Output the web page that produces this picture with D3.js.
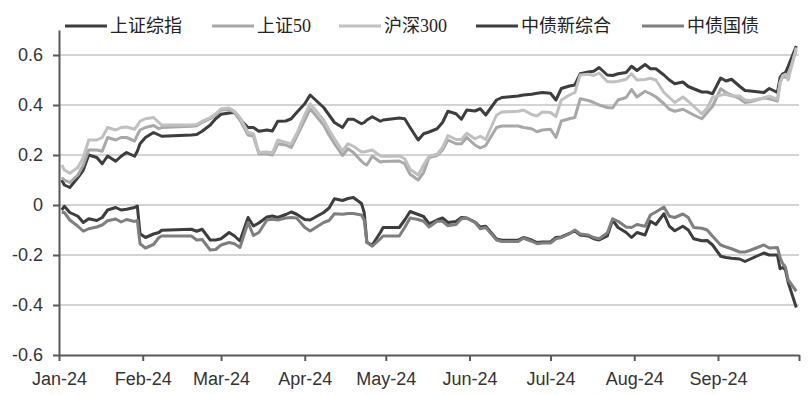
<!DOCTYPE html>
<html>
<head>
<meta charset="utf-8">
<script src="https://cdn.jsdelivr.net/npm/d3@7"></script>
<style>
	body { margin: 0; background: #fff; }
	svg { display: block; }
</style>
</head>
<body>
<script>
// trading days (2024), one point every ~2 days
var dates = [
	"01-02","01-03","01-05","01-08","01-10","01-12","01-15","01-17","01-19","01-22","01-24","01-26","01-29","01-30","01-31",
	"02-02","02-05","02-07","02-08","02-19","02-21","02-23","02-26","02-28",
	"03-01","03-04","03-06","03-08","03-11","03-13","03-15","03-18","03-20","03-22","03-25","03-27","03-29",
	"04-01","04-03","04-08","04-10","04-12","04-15","04-17","04-19","04-22","04-23","04-24","04-26","04-29","04-30",
	"05-06","05-08","05-10","05-13","05-15","05-17","05-20","05-22","05-24","05-27","05-29","05-31",
	"06-03","06-05","06-07","06-11","06-13","06-17","06-19","06-21","06-24","06-26","06-28",
	"07-01","07-03","07-05","07-08","07-10","07-12","07-15","07-17","07-19","07-22","07-24","07-26","07-29","07-31",
	"08-02","08-05","08-07","08-09","08-12","08-14","08-16","08-19","08-21","08-23","08-26","08-28","08-30",
	"09-02","09-04","09-06","09-09","09-11","09-13","09-18","09-20","09-23","09-24","09-25","09-26","09-27","09-30"
];

var shComposite = [
	0.10,0.08,0.07,0.11,0.14,0.20,0.19,0.165,0.196,0.175,0.195,0.21,0.195,0.215,0.245,
	0.27,0.29,0.28,0.275,0.28,0.282,0.295,0.32,0.345,
	0.363,0.368,0.37,0.343,0.31,0.31,0.295,0.30,0.296,0.335,0.336,0.345,0.37,
	0.405,0.44,0.39,0.36,0.33,0.31,0.343,0.343,0.325,0.33,0.34,0.353,0.335,0.34,
	0.348,0.345,0.31,0.26,0.285,0.292,0.305,0.33,0.375,0.365,0.343,0.38,
	0.376,0.385,0.36,0.42,0.43,0.434,0.436,0.44,0.443,0.447,0.45,
	0.447,0.42,0.466,0.476,0.48,0.525,0.532,0.535,0.55,0.52,0.518,0.525,0.53,0.555,
	0.538,0.562,0.545,0.545,0.52,0.50,0.485,0.492,0.474,0.465,0.452,0.452,0.445,
	0.508,0.496,0.503,0.475,0.458,0.456,0.45,0.466,0.45,0.51,0.525,0.53,0.555,0.636
];
var sh50 = [
	0.11,0.10,0.09,0.12,0.16,0.22,0.22,0.215,0.27,0.26,0.27,0.27,0.256,0.28,0.30,
	0.31,0.318,0.305,0.31,0.315,0.317,0.33,0.345,0.36,
	0.38,0.382,0.37,0.34,0.28,0.275,0.205,0.205,0.20,0.245,0.24,0.23,0.274,
	0.34,0.385,0.32,0.28,0.245,0.198,0.225,0.21,0.175,0.165,0.16,0.195,0.172,0.174,
	0.176,0.165,0.123,0.10,0.13,0.19,0.198,0.22,0.26,0.245,0.245,0.27,
	0.24,0.228,0.238,0.31,0.316,0.316,0.316,0.31,0.305,0.293,0.30,
	0.303,0.27,0.336,0.345,0.35,0.425,0.418,0.41,0.40,0.39,0.388,0.42,0.43,0.462,
	0.432,0.455,0.445,0.433,0.405,0.383,0.375,0.383,0.372,0.36,0.345,0.37,0.395,
	0.465,0.45,0.44,0.425,0.41,0.413,0.428,0.425,0.416,0.49,0.515,0.51,0.52,0.62
];
var hs300 = [
	0.16,0.14,0.127,0.15,0.19,0.26,0.26,0.27,0.31,0.30,0.31,0.312,0.303,0.318,0.335,
	0.345,0.35,0.33,0.32,0.32,0.322,0.335,0.35,0.365,
	0.385,0.388,0.375,0.35,0.29,0.285,0.21,0.212,0.208,0.26,0.25,0.245,0.285,
	0.36,0.405,0.34,0.30,0.265,0.216,0.245,0.235,0.212,0.212,0.215,0.22,0.196,0.195,
	0.196,0.185,0.143,0.12,0.16,0.195,0.203,0.23,0.278,0.262,0.262,0.287,
	0.265,0.275,0.262,0.36,0.372,0.374,0.375,0.38,0.362,0.356,0.372,
	0.37,0.354,0.42,0.44,0.45,0.52,0.523,0.518,0.528,0.494,0.492,0.495,0.503,0.525,
	0.50,0.502,0.507,0.50,0.45,0.43,0.41,0.432,0.415,0.395,0.365,0.388,0.43,
	0.44,0.443,0.436,0.436,0.42,0.418,0.428,0.435,0.423,0.49,0.518,0.523,0.50,0.63
];
var cbNew = [
	-0.02,-0.005,-0.03,-0.045,-0.07,-0.055,-0.062,-0.05,-0.02,-0.01,-0.02,-0.017,-0.01,-0.004,-0.115,
	-0.13,-0.116,-0.11,-0.101,-0.097,-0.105,-0.097,-0.14,-0.14,
	-0.135,-0.11,-0.124,-0.144,-0.05,-0.084,-0.072,-0.048,-0.044,-0.05,-0.038,-0.028,-0.037,
	-0.058,-0.06,-0.03,-0.012,0.025,0.018,0.026,0.03,0.006,-0.03,-0.15,-0.16,-0.11,-0.09,
	-0.09,-0.06,-0.026,-0.038,-0.046,-0.075,-0.06,-0.052,-0.07,-0.066,-0.05,-0.052,
	-0.068,-0.088,-0.085,-0.136,-0.141,-0.141,-0.14,-0.13,-0.14,-0.15,-0.148,
	-0.148,-0.13,-0.128,-0.114,-0.104,-0.12,-0.124,-0.135,-0.14,-0.124,-0.06,-0.09,-0.11,-0.13,
	-0.11,-0.12,-0.065,-0.078,-0.035,-0.085,-0.103,-0.085,-0.1,-0.135,-0.143,-0.142,-0.16,
	-0.205,-0.21,-0.213,-0.216,-0.226,-0.216,-0.192,-0.2,-0.2,-0.255,-0.25,-0.26,-0.31,-0.41
];
var cbTreasury = [
	-0.03,-0.03,-0.06,-0.085,-0.105,-0.095,-0.088,-0.08,-0.063,-0.056,-0.068,-0.058,-0.066,-0.061,-0.155,
	-0.172,-0.158,-0.13,-0.124,-0.124,-0.14,-0.138,-0.18,-0.178,
	-0.16,-0.15,-0.155,-0.17,-0.07,-0.122,-0.11,-0.06,-0.057,-0.06,-0.052,-0.05,-0.052,
	-0.09,-0.104,-0.07,-0.062,-0.035,-0.037,-0.034,-0.034,-0.04,-0.06,-0.15,-0.165,-0.135,-0.124,
	-0.124,-0.09,-0.052,-0.058,-0.065,-0.088,-0.065,-0.065,-0.083,-0.078,-0.055,-0.053,
	-0.07,-0.095,-0.09,-0.14,-0.146,-0.146,-0.146,-0.133,-0.145,-0.155,-0.152,
	-0.152,-0.135,-0.13,-0.115,-0.1,-0.116,-0.12,-0.13,-0.135,-0.112,-0.055,-0.065,-0.088,-0.09,
	-0.078,-0.085,-0.04,-0.028,-0.008,-0.045,-0.05,-0.036,-0.05,-0.09,-0.093,-0.1,-0.125,
	-0.16,-0.168,-0.175,-0.188,-0.188,-0.181,-0.16,-0.172,-0.17,-0.21,-0.235,-0.25,-0.3,-0.345
];

var seriesNames = ["上证综指", "上证50", "沪深300", "中债新综合", "中债国债"];
var seriesValues = [shComposite, sh50, hs300, cbNew, cbTreasury];
var seriesColors = ["#3d3d3d", "#a8a8a8", "#c0c0c0", "#3d3d3d", "#7f7f7f"];
var yTicks = [-0.6, -0.4, -0.2, 0, 0.2, 0.4, 0.6];
var yTickLabels = ["-0.6", "-0.4", "-0.2", "0", "0.2", "0.4", "0.6"];

var parseDate = d3.timeParse("%Y-%m-%d");
var days = dates.map(function(d) { return parseDate("2024-" + d); });

var svg = d3.select("body").append("svg")
	.attr("width", 811)
	.attr("height", 395);

var x = d3.scaleTime()
	.domain([new Date(2024, 0, 1), new Date(2024, 9, 1)])
	.range([59, 799]);
var y = d3.scaleLinear()
	.domain([-0.6, 0.7])
	.range([355, 30]);

// gridlines
svg.append("g").selectAll("line")
	.data(yTicks.filter(function(v) { return v !== -0.6; }))
	.enter().append("line")
	.attr("x1", 59).attr("x2", 799)
	.attr("y1", function(d) { return y(d); })
	.attr("y2", function(d) { return y(d); })
	.style("stroke", "#c4c4c4")
	.style("stroke-width", 1.5);

var yAxis = svg.append("g")
	.attr("transform", "translate(59,0)")
	.call(d3.axisLeft(y).tickValues(yTicks).tickSize(6).tickSizeOuter(0).tickPadding(10)
		.tickFormat(function(d, i) { return yTickLabels[i]; }));

var monthTicks = d3.timeMonth.range(new Date(2024, 0, 1), new Date(2024, 9, 2));
var xAxis = svg.append("g")
	.attr("transform", "translate(0,355)")
	.call(d3.axisBottom(x).tickValues(monthTicks).tickSize(6).tickSizeOuter(0).tickPadding(11)
		.tickFormat(function(d) { return d.getMonth() < 9 ? d3.timeFormat("%b-%y")(d) : ""; }));

[yAxis, xAxis].forEach(function(a) {
	a.select(".domain").style("stroke", "#595959").style("stroke-width", 2);
	a.selectAll(".tick line").style("stroke", "#595959").style("stroke-width", 2);
	a.selectAll("text")
		.style("font-family", "'Liberation Sans', Arial, sans-serif")
		.style("font-size", "18px")
		.style("fill", "#333");
});

var line = d3.line()
	.x(function(d, i) { return x(days[i]); })
	.y(function(d) { return y(d); });

svg.append("g").selectAll("path")
	.data(seriesValues)
	.enter().append("path")
	.attr("d", function(d) { return line(d); })
	.style("fill", "none")
	.style("stroke", function(d, i) { return seriesColors[i]; })
	.style("stroke-width", 3)
	.style("stroke-linejoin", "round");

// legend
var legendX = [65, 212, 339, 476, 642];
var legend = svg.append("g").selectAll("g")
	.data(seriesNames)
	.enter().append("g")
	.attr("transform", function(d, i) { return "translate(" + legendX[i] + ",26)"; });
legend.append("line")
	.attr("x1", 0).attr("x2", 42)
	.style("stroke", function(d, i) { return seriesColors[i]; })
	.style("stroke-width", 3);
legend.append("text")
	.attr("x", 45)
	.attr("dy", "0.36em")
	.text(function(d) { return d; })
	.style("font-family", "'Liberation Serif', 'Noto Sans CJK SC', serif")
	.style("font-size", "18px")
	.style("fill", "#222");
</script>
</body>
</html>
